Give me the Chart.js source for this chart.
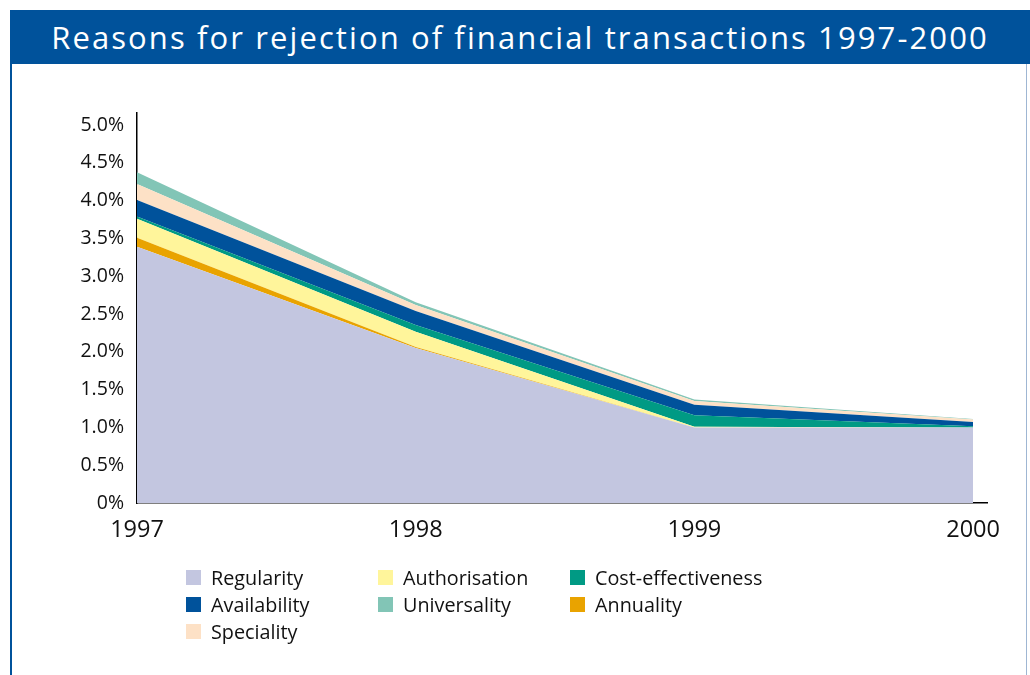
<!DOCTYPE html>
<html>
<head>
<meta charset="utf-8">
<script src="https://cdn.jsdelivr.net/npm/chart.js@4/dist/chart.umd.min.js"></script>
<style>
  html, body { margin: 0; padding: 0; background: #fff; }
  body { width: 1030px; height: 675px; position: relative; overflow: hidden; font-family: "Open Sans", sans-serif; }
  .header { position: absolute; left: 10px; top: 10px; width: 1020px; height: 54px; background: #00529b; }
  .header h1 { margin: 0; color: #fff; font-family: "Open Sans", sans-serif; font-weight: 400; font-size: 31px; line-height: 54px; text-align: center; letter-spacing: 2.1px; }
  .border-left { position: absolute; left: 10px; top: 64px; width: 2px; height: 611px; background: #00529b; }
  .border-right { position: absolute; left: 1026px; top: 64px; width: 1px; height: 611px; background: #9fb6d3; }
  #chart { position: absolute; left: 0; top: 0; }
  .legend { position: absolute; left: 186px; top: 566px; display: grid; grid-template-columns: 192px 192px 220px; row-gap: 5px; }
  .legend div { display: flex; align-items: center; font-size: 19.8px; color: #111; height: 22px; }
  .legend span { display: inline-block; width: 15px; height: 15px; margin-right: 10px; }
</style>
</head>
<body>
<div class="header"><h1>Reasons for rejection of financial transactions 1997-2000</h1></div>
<div class="border-left"></div>
<div class="border-right"></div>
<canvas id="chart" width="1030" height="675"></canvas>
<div class="legend" id="legend"></div>
<script>
// years on the x axis
const years = [1997, 1998, 1999, 2000];
// share of rejected transactions (%), stacked bottom to top
const regularity = [3.39, 2.05, 1.0, 1.0];
const annuality = [0.12, 0.015, 0, 0];
const authorisation = [0.25, 0.2, 0.01, 0];
const costEffectiveness = [0.03, 0.09, 0.15, 0.015];
const availability = [0.22, 0.185, 0.14, 0.055];
const speciality = [0.21, 0.08, 0.05, 0.035];
const universality = [0.155, 0.035, 0.02, 0.005];
const yTicks = [0, 0.5, 1.0, 1.5, 2.0, 2.5, 3.0, 3.5, 4.0, 4.5, 5.0];

const legendOrder = ['Regularity', 'Authorisation', 'Cost-effectiveness', 'Availability', 'Universality', 'Annuality', 'Speciality'];

function series(label, values, color, i) {
    return {
        label: label,
        data: years.map((yr, k) => ({ x: yr, y: values[k] })),
        backgroundColor: color,
        borderWidth: 0,
        pointRadius: 0,
        tension: 0,
        fill: i === 0 ? 'origin' : '-1',
    };
}

const datasets = [
    series('Regularity', regularity, '#c3c6e0', 0),
    series('Annuality', annuality, '#e9a300', 1),
    series('Authorisation', authorisation, '#fff59b', 2),
    series('Cost-effectiveness', costEffectiveness, '#009a84', 3),
    series('Availability', availability, '#00529b', 4),
    series('Speciality', speciality, '#fde1c6', 5),
    series('Universality', universality, '#82c5b6', 6),
];

const ctx = document.getElementById('chart').getContext('2d');
const chart = new Chart(ctx, {
    type: 'line',
    data: { datasets: datasets },
    options: {
        responsive: false,
        animation: false,
        layout: { padding: { left: 58, top: 113, right: 43, bottom: 132 } },
        plugins: { legend: { display: false }, tooltip: { enabled: false } },
        scales: {
            x: {
                type: 'linear',
                min: 1997,
                max: 2000.05,
                afterBuildTicks: s => { s.ticks = years.map(v => ({ value: v })); },
                afterFit: s => { s.height = 40; },
                grid: { display: true, drawOnChartArea: false, drawTicks: false },
                border: { color: '#000', width: 1.5 },
                ticks: {
                    padding: 13,
                    color: '#111',
                    font: { family: 'Open Sans', size: 23.5 },
                    callback: v => String(v),
                    maxRotation: 0,
                },
            },
            y: {
                stacked: true,
                min: 0,
                max: 5.16,
                afterBuildTicks: s => { s.ticks = yTicks.map(v => ({ value: v })); },
                afterFit: s => { s.width = 79; },
                grid: { display: true, drawOnChartArea: false, drawTicks: false },
                border: { color: '#000', width: 1.5 },
                ticks: {
                    padding: 13,
                    color: '#111',
                    font: { family: 'Open Sans', size: 19.5 },
                    callback: v => (v === 0 ? '0%' : v.toFixed(1) + '%'),
                },
            },
        },
    },
});

// html legend in the original 3-column order
const legend = document.getElementById('legend');
legendOrder.forEach(name => {
    const ds = chart.data.datasets.find(d => d.label === name);
    const item = document.createElement('div');
    const box = document.createElement('span');
    box.style.background = ds.backgroundColor;
    item.appendChild(box);
    item.appendChild(document.createTextNode(name));
    legend.appendChild(item);
});
</script>
</body>
</html>
